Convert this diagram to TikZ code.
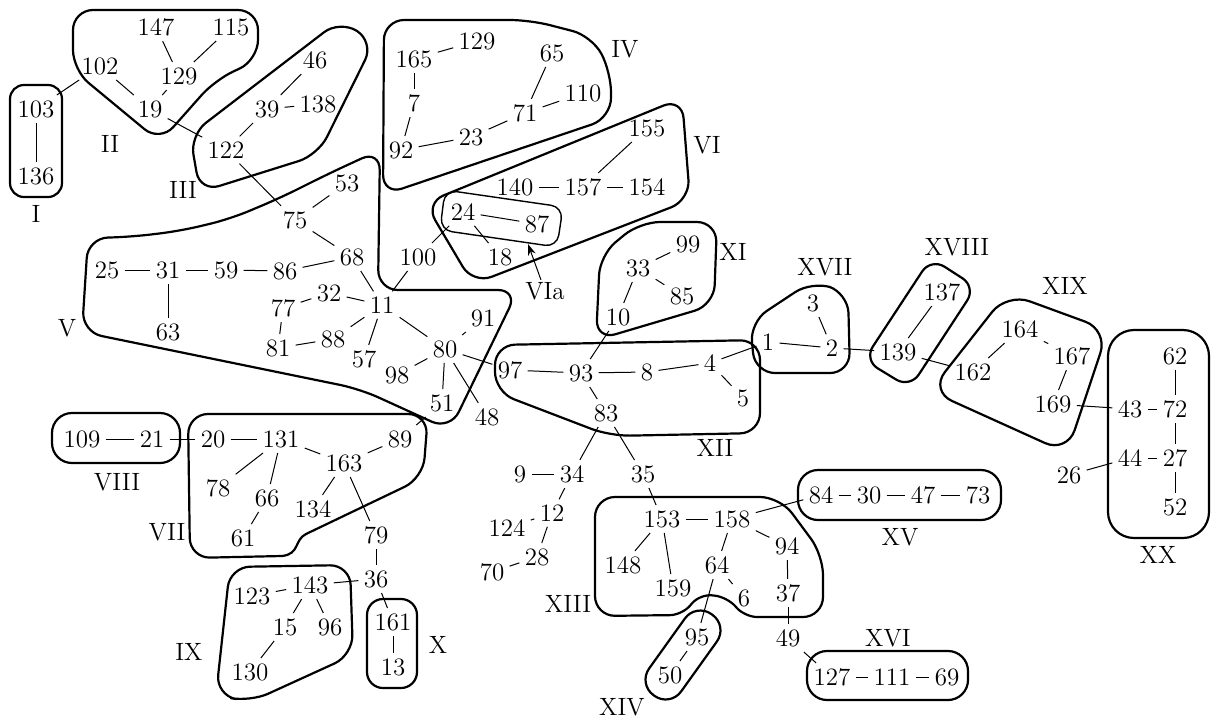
\documentclass[tikz,border=0pt]{standalone}
\usetikzlibrary{arrows.meta}
\begin{document}
\begin{tikzpicture}[
  x=0.5pt, y=-0.5pt,
  v/.style={inner sep=2.5pt, font=\fontsize{12.5}{15}\selectfont},
  lab/.style={inner sep=1pt, font=\fontsize{12.5}{15}\selectfont},
  e/.style={line width=0.5pt},
  blob/.style={line width=1.1pt, rounded corners=10pt},
  sub/.style={line width=0.7pt, rounded corners=6pt},
  arr/.style={-{Stealth[length=2mm, width=1.4mm]}, line width=0.5pt}
]
  \useasboundingbox (0,0) rectangle (1211,719);

  % group I
  \node[v] (n103) at (36,109) {103};
  \node[v] (n136) at (36,176) {136};
  % group II
  \node[v] (n147) at (156,27) {147};
  \node[v] (n115) at (231,27) {115};
  \node[v] (n102) at (100,66) {102};
  \node[v] (n129a) at (179,76) {129};
  \node[v] (n19) at (150,109) {19};
  % group III
  \node[v] (n46) at (315,60) {46};
  \node[v] (n39) at (267,109) {39};
  \node[v] (n138) at (318,104) {138};
  \node[v] (n122) at (226,150) {122};
  % group IV
  \node[v] (n165) at (414,59) {165};
  \node[v] (n129b) at (477,41) {129};
  \node[v] (n7) at (414,103) {7};
  \node[v] (n92) at (401,150) {92};
  \node[v] (n23) at (471,137) {23};
  \node[v] (n71) at (525,113) {71};
  \node[v] (n65) at (552,53) {65};
  \node[v] (n110) at (583,93) {110};
  % group VI and VIa
  \node[v] (n155) at (647,128) {155};
  \node[v] (n140) at (515,187) {140};
  \node[v] (n157) at (583,187) {157};
  \node[v] (n154) at (647,187) {154};
  \node[v] (n24) at (463,212) {24};
  \node[v] (n87) at (537,224) {87};
  \node[v] (n18) at (500,257) {18};
  % group V
  \node[v] (n100) at (418,257) {100};
  \node[v] (n53) at (347,183) {53};
  \node[v] (n75) at (295,220) {75};
  \node[v] (n68) at (352,257) {68};
  \node[v] (n25) at (107,270) {25};
  \node[v] (n31) at (168,270) {31};
  \node[v] (n59) at (226,270) {59};
  \node[v] (n86) at (285,271) {86};
  \node[v] (n63) at (168,332) {63};
  \node[v] (n32) at (329,293) {32};
  \node[v] (n77) at (283,308) {77};
  \node[v] (n81) at (278,348) {81};
  \node[v] (n88) at (333,339) {88};
  \node[v] (n11) at (382,305) {11};
  \node[v] (n57) at (364,359) {57};
  \node[v] (n80) at (445,349) {80};
  \node[v] (n91) at (483,318) {91};
  \node[v] (n98) at (397,375) {98};
  \node[v] (n51) at (442,403) {51};
  \node[v] (n48) at (487,417) {48};
  % group VIII
  \node[v] (n109) at (82,439) {109};
  \node[v] (n21) at (152,439) {21};
  % group VII
  \node[v] (n20) at (213,439) {20};
  \node[v] (n131) at (281,439) {131};
  \node[v] (n163) at (344,463) {163};
  \node[v] (n89) at (400,439) {89};
  \node[v] (n78) at (218,488) {78};
  \node[v] (n66) at (267,498) {66};
  \node[v] (n134) at (313,509) {134};
  \node[v] (n61) at (243,538) {61};
  \node[v] (n79) at (376,535) {79};
  \node[v] (n36) at (376,579) {36};
  % group IX
  \node[v] (n143) at (310,585) {143};
  \node[v] (n123) at (252,596) {123};
  \node[v] (n15) at (285,627) {15};
  \node[v] (n96) at (330,627) {96};
  \node[v] (n130) at (250,672) {130};
  % group X
  \node[v] (n161) at (393,622) {161};
  \node[v] (n13) at (393,667) {13};
  % group XI
  \node[v] (n99) at (688,244) {99};
  \node[v] (n33) at (638,268) {33};
  \node[v] (n85) at (682,296) {85};
  \node[v] (n10) at (618,317) {10};
  % group XII
  \node[v] (n97) at (510,370) {97};
  \node[v] (n93) at (581,373) {93};
  \node[v] (n8) at (647,372) {8};
  \node[v] (n4) at (710,363) {4};
  \node[v] (n5) at (743,398) {5};
  \node[v] (n83) at (606,413) {83};
  % loose chain below XII
  \node[v] (n9) at (520,474) {9};
  \node[v] (n34) at (572,474) {34};
  \node[v] (n35) at (643,474) {35};
  \node[v] (n12) at (552,513) {12};
  \node[v] (n124) at (507,528) {124};
  \node[v] (n28) at (537,557) {28};
  \node[v] (n70) at (492,572) {70};
  % group XIII and XIV
  \node[v] (n153) at (662,519) {153};
  \node[v] (n158) at (732,519) {158};
  \node[v] (n148) at (623,565) {148};
  \node[v] (n159) at (673,588) {159};
  \node[v] (n64) at (717,565) {64};
  \node[v] (n6) at (744,598) {6};
  \node[v] (n94) at (787,546) {94};
  \node[v] (n37) at (788,593) {37};
  \node[v] (n49) at (788,638) {49};
  \node[v] (n95) at (697,637) {95};
  \node[v] (n50) at (670,675) {50};
  % group XV and XVI
  \node[v] (n84) at (821,495) {84};
  \node[v] (n30) at (869,495) {30};
  \node[v] (n47) at (923,495) {47};
  \node[v] (n73) at (978,495) {73};
  \node[v] (n127) at (832,677) {127};
  \node[v] (n111) at (892,677) {111};
  \node[v] (n69) at (947,677) {69};
  % groups XVII, XVIII, XIX
  \node[v] (n3) at (813,303) {3};
  \node[v] (n1) at (768,342) {1};
  \node[v] (n2) at (832,348) {2};
  \node[v] (n137) at (942,292) {137};
  \node[v] (n139) at (898,352) {139};
  \node[v] (n162) at (973,372) {162};
  \node[v] (n164) at (1020,329) {164};
  \node[v] (n167) at (1072,356) {167};
  \node[v] (n169) at (1053,404) {169};
  % group XX
  \node[v] (n62) at (1175,356) {62};
  \node[v] (n43) at (1130,409) {43};
  \node[v] (n72) at (1175,409) {72};
  \node[v] (n44) at (1130,458) {44};
  \node[v] (n27) at (1175,458) {27};
  \node[v] (n52) at (1175,507) {52};
  \node[v] (n26) at (1069,475) {26};

  % group names
  \node[lab] (lI) at (36,214) {I};
  \node[lab] (lII) at (110,144) {II};
  \node[lab] (lIII) at (183,190) {III};
  \node[lab] (lIV) at (625,49) {IV};
  \node[lab] (lV) at (67,328) {V};
  \node[lab] (lVI) at (707,145) {VI};
  \node[lab] (lVIa) at (545,291) {VIa};
  \node[lab] (lVII) at (167,532) {VII};
  \node[lab] (lVIII) at (117,482) {VIII};
  \node[lab] (lIX) at (189,652) {IX};
  \node[lab] (lX) at (438,645) {X};
  \node[lab] (lXI) at (733,252) {XI};
  \node[lab] (lXII) at (715,448) {XII};
  \node[lab] (lXIII) at (568,604) {XIII};
  \node[lab] (lXIV) at (622,707) {XIV};
  \node[lab] (lXV) at (900,537) {XV};
  \node[lab] (lXVI) at (888,638) {XVI};
  \node[lab] (lXVII) at (825,267) {XVII};
  \node[lab] (lXVIII) at (957,247) {XVIII};
  \node[lab] (lXIX) at (1065,286) {XIX};
  \node[lab] (lXX) at (1158,555) {XX};

  % outlines
  \draw[blob, rounded corners=7pt] (10,85) rectangle (62,197);
  \draw[blob] (73,10) -- (258,10) -- (258,60) -- (215,80) -- (160,142) -- (73,70) -- cycle;
  \draw[blob] (318,155) -- (374,42) -- (340,20) -- (190,135) -- (200,192) -- cycle;
  \draw[blob] (384,20) -- (530,20) -- (592,36) -- (611,72) -- (611,118) -- (383,195) -- cycle;
  \draw[blob] (425,203) -- (682,98) -- (690,200) -- (473,284) -- cycle;
  \draw[sub] (445,190) -- (563,207) -- (557,247) -- (440,230) -- cycle;
  \draw[blob] (88,238) -- (130,237) -- (180,231) -- (230,219) -- (280,198) -- (330,173)
    -- (380,150) -- (378,290) -- (518,290) -- (450,430) -- (360,389) -- (82,332) -- cycle;
  \draw[blob] (52,413) rectangle (180,463);
  \draw[blob, line cap=round] (306,534) -- (423,478) -- (428,414) -- (188,414) -- (190,558) -- (282,556);
  \draw[blob, line cap=round] (282,556) .. controls (300,554) and (294,540) .. (306,534);
  \draw[blob] (230,567) -- (350,565) -- (353,655) -- (250,702) -- (216,695) -- cycle;
  \draw[blob, rounded corners=8pt] (367,599) rectangle (417,688);
  \draw[blob] (640,222) -- (717,222) -- (714,305) -- (596,340) -- (600,255) -- cycle;
  \draw[blob] (495,345) -- (760,340) -- (760,433) -- (610,436) -- (495,392) -- cycle;
  \draw[blob] (595,497) -- (780,497) -- (823,555) -- (823,617) [rounded corners=6pt]
    -- (745,617) -- (727,597) -- (700,594) -- (682,615) [rounded corners=10pt]
    -- (595,616) -- cycle;
  \draw[blob, rounded corners=9.5pt] (670,707) -- (638,684) -- (696,603) -- (728,626) -- cycle;
  \draw[blob] (798,470) rectangle (1001,520);
  \draw[blob] (807,651) rectangle (968,700);
  \draw[blob] (812,281) -- (848,293) -- (850,373) -- (755,373) -- (750,322) -- cycle;
  \draw[blob, rounded corners=8pt] (931,258) -- (976,287) -- (910,388) -- (864,360) -- cycle;
  \draw[blob, rounded corners=12pt] (1007,293) -- (1108,330) -- (1067,453) -- (930,391) -- cycle;
  \draw[blob, rounded corners=13pt] (1108,330) rectangle (1209,538);

  % pointer to VIa
  \coordinate (VIaend) at (528,244);
  \draw[arr] (lVIa) -- (VIaend);

  % edges
  \draw[e] (n103) -- (n136);
  \draw[e] (n102) -- (n103);
  \draw[e] (n147) -- (n129a);
  \draw[e] (n115) -- (n129a);
  \draw[e] (n102) -- (n19);
  \draw[e] (n129a) -- (n19);
  \draw[e] (n19) -- (n122);
  \draw[e] (n46) -- (n39);
  \draw[e] (n39) -- (n138);
  \draw[e] (n39) -- (n122);
  \draw[e] (n122) -- (n75);
  \draw[e] (n165) -- (n129b);
  \draw[e] (n165) -- (n7);
  \draw[e] (n7) -- (n92);
  \draw[e] (n92) -- (n23);
  \draw[e] (n23) -- (n71);
  \draw[e] (n71) -- (n65);
  \draw[e] (n71) -- (n110);
  \draw[e] (n155) -- (n157);
  \draw[e] (n140) -- (n157);
  \draw[e] (n157) -- (n154);
  \draw[e] (n24) -- (n87);
  \draw[e] (n24) -- (n18);
  \draw[e] (n24) -- (n100);
  \draw[e] (n75) -- (n53);
  \draw[e] (n75) -- (n68);
  \draw[e] (n25) -- (n31);
  \draw[e] (n31) -- (n59);
  \draw[e] (n59) -- (n86);
  \draw[e] (n86) -- (n68);
  \draw[e] (n31) -- (n63);
  \draw[e] (n68) -- (n11);
  \draw[e] (n100) -- (n11);
  \draw[e] (n32) -- (n11);
  \draw[e] (n77) -- (n32);
  \draw[e] (n77) -- (n81);
  \draw[e] (n81) -- (n88);
  \draw[e] (n88) -- (n11);
  \draw[e] (n57) -- (n11);
  \draw[e] (n11) -- (n80);
  \draw[e] (n80) -- (n91);
  \draw[e] (n80) -- (n98);
  \draw[e] (n80) -- (n51);
  \draw[e] (n80) -- (n48);
  \draw[e] (n80) -- (n97);
  \draw[e] (n51) -- (n89);
  \draw[e] (n109) -- (n21);
  \draw[e] (n21) -- (n20);
  \draw[e] (n20) -- (n131);
  \draw[e] (n131) -- (n78);
  \draw[e] (n131) -- (n66);
  \draw[e] (n131) -- (n163);
  \draw[e] (n66) -- (n61);
  \draw[e] (n163) -- (n89);
  \draw[e] (n163) -- (n134);
  \draw[e] (n163) -- (n79);
  \draw[e] (n79) -- (n36);
  \draw[e] (n36) -- (n143);
  \draw[e] (n36) -- (n161);
  \draw[e] (n143) -- (n123);
  \draw[e] (n143) -- (n15);
  \draw[e] (n143) -- (n96);
  \draw[e] (n15) -- (n130);
  \draw[e] (n161) -- (n13);
  \draw[e] (n33) -- (n99);
  \draw[e] (n33) -- (n85);
  \draw[e] (n33) -- (n10);
  \draw[e] (n10) -- (n93);
  \draw[e] (n97) -- (n93);
  \draw[e] (n93) -- (n8);
  \draw[e] (n8) -- (n4);
  \draw[e] (n4) -- (n5);
  \draw[e] (n4) -- (n1);
  \draw[e] (n93) -- (n83);
  \draw[e] (n83) -- (n34);
  \draw[e] (n83) -- (n35);
  \draw[e] (n9) -- (n34);
  \draw[e] (n34) -- (n12);
  \draw[e] (n12) -- (n124);
  \draw[e] (n12) -- (n28);
  \draw[e] (n28) -- (n70);
  \draw[e] (n35) -- (n153);
  \draw[e] (n153) -- (n158);
  \draw[e] (n153) -- (n148);
  \draw[e] (n153) -- (n159);
  \draw[e] (n158) -- (n64);
  \draw[e] (n158) -- (n94);
  \draw[e] (n158) -- (n84);
  \draw[e] (n64) -- (n6);
  \draw[e] (n64) -- (n95);
  \draw[e] (n94) -- (n37);
  \draw[e] (n37) -- (n49);
  \draw[e] (n95) -- (n50);
  \draw[e] (n49) -- (n127);
  \draw[e] (n84) -- (n30);
  \draw[e] (n30) -- (n47);
  \draw[e] (n47) -- (n73);
  \draw[e] (n127) -- (n111);
  \draw[e] (n111) -- (n69);
  \draw[e] (n3) -- (n2);
  \draw[e] (n1) -- (n2);
  \draw[e] (n2) -- (n139);
  \draw[e] (n137) -- (n139);
  \draw[e] (n139) -- (n162);
  \draw[e] (n164) -- (n162);
  \draw[e] (n164) -- (n167);
  \draw[e] (n167) -- (n169);
  \draw[e] (n169) -- (n43);
  \draw[e] (n62) -- (n72);
  \draw[e] (n43) -- (n72);
  \draw[e] (n72) -- (n27);
  \draw[e] (n44) -- (n27);
  \draw[e] (n27) -- (n52);
  \draw[e] (n44) -- (n26);
\end{tikzpicture}
\end{document}
